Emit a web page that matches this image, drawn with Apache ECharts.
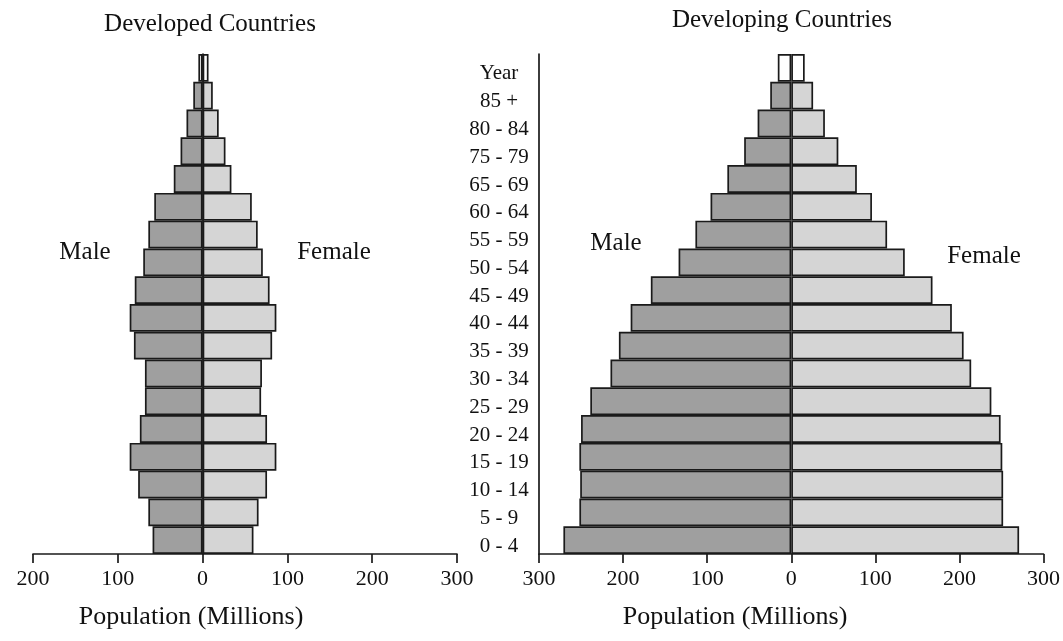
<!DOCTYPE html>
<html>
<head>
<meta charset="utf-8">
<script src="https://cdn.jsdelivr.net/npm/echarts@6/dist/echarts.min.js"></script>
<style>
  html, body { margin: 0; padding: 0; background: #fff; }
  #chart { width: 1063px; height: 641px; }
</style>
</head>
<body>
<div id="chart"></div>
<script>
// age groups, top to bottom (as printed, 70 - 74 is missing in the original)
var ageGroups = ["Year", "85 +", "80 - 84", "75 - 79", "65 - 69", "60 - 64", "55 - 59",
  "50 - 54", "45 - 49", "40 - 44", "35 - 39", "30 - 34", "25 - 29", "20 - 24",
  "15 - 19", "10 - 14", "5 - 9", "0 - 4"];

// population in millions, developed countries
var devMale = [5, 11, 19, 26, 34, 57, 64, 70, 80, 86, 81, 68, 68, 74, 86, 76, 64, 59];
var devFemale = [7, 12, 19, 27, 34, 58, 65, 71, 79, 87, 82, 70, 69, 76, 87, 76, 66, 60];

// population in millions, developing countries
var lessMale = [16, 25, 40, 56, 76, 96, 114, 134, 167, 191, 205, 215, 239, 250, 252, 251, 252, 271];
var lessFemale = [16, 26, 40, 56, 78, 96, 114, 135, 168, 191, 205, 214, 238, 249, 251, 252, 252, 271];

var leftTicks = [-200, 300];
var rightTicks = [-300, 300];

var serif = "Liberation Serif";
var maleColor = "#9f9f9f";
var femaleColor = "#d5d5d5";

// top row is drawn as open boxes
function toBars(arr, sign, color) {
  return arr.map(function (v, i) {
    return {
      value: sign * v,
      itemStyle: { color: i === 0 ? "#ffffff" : color }
    };
  });
}

function barSeries(idx, data) {
  return {
    type: "bar",
    xAxisIndex: idx,
    yAxisIndex: idx,
    barGap: "-100%",
    barCategoryGap: 0,
    silent: true,
    itemStyle: { borderColor: "#1a1a1a", borderWidth: 1.7 },
    data: data
  };
}

function xAxisConf(idx, range) {
  return {
    type: "value",
    gridIndex: idx,
    min: range[0],
    max: range[1],
    interval: 100,
    axisLine: { show: true, onZero: false, lineStyle: { color: "#1a1a1a", width: 1.7 } },
    axisTick: { show: true, inside: false, length: 9, lineStyle: { color: "#1a1a1a", width: 1.7 } },
    splitLine: { show: false },
    axisLabel: {
      margin: 14,
      color: "#111",
      fontFamily: serif,
      fontSize: 22,
      formatter: function (v) { return Math.abs(v); }
    }
  };
}

function txt(x, y, s, size) {
  return {
    type: "text", x: x, y: y,
    style: { text: s, font: size + "px " + serif, fill: "#111", align: "center", verticalAlign: "middle" }
  };
}

var chart = echarts.init(document.getElementById("chart"));

chart.setOption({
  backgroundColor: "#ffffff",
  animation: false,
  grid: [
    { left: 33, right: 606, top: 54, bottom: 87 },
    { left: 539, right: 14, top: 54, bottom: 87 }
  ],
  xAxis: [xAxisConf(0, leftTicks), xAxisConf(1, rightTicks)],
  yAxis: [
    {
      type: "category",
      gridIndex: 0,
      position: "right",
      inverse: true,
      data: ageGroups,
      axisLine: { show: true, lineStyle: { color: "#1a1a1a", width: 1.7 } },
      axisTick: { show: false },
      axisLabel: { show: false }
    },
    {
      type: "category",
      gridIndex: 1,
      position: "left",
      inverse: true,
      data: ageGroups,
      axisLine: { show: true, onZero: false, lineStyle: { color: "#1a1a1a", width: 1.7 } },
      axisTick: { show: false },
      axisLabel: {
        margin: 40,
        align: "center",
        verticalAlign: "top",
        lineHeight: 12,
        color: "#111",
        fontFamily: serif,
        fontSize: 21
      }
    }
  ],
  series: [
    barSeries(0, toBars(devMale, -1, maleColor)),
    barSeries(0, toBars(devFemale, 1, femaleColor)),
    barSeries(1, toBars(lessMale, -1, maleColor)),
    barSeries(1, toBars(lessFemale, 1, femaleColor))
  ],
  graphic: [
    txt(210, 24, "Developed Countries", 25),
    txt(782, 20, "Developing Countries", 25),
    txt(85, 252, "Male", 25),
    txt(334, 252, "Female", 25),
    txt(616, 243, "Male", 25),
    txt(984, 256, "Female", 25),
    txt(191, 617, "Population (Millions)", 26),
    txt(735, 617, "Population (Millions)", 26)
  ]
});
</script>
</body>
</html>
